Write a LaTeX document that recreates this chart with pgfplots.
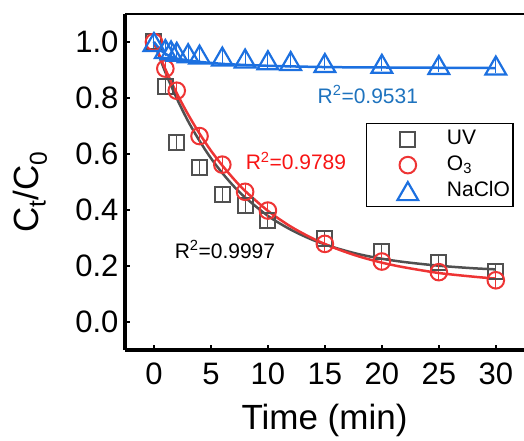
\documentclass[border=0pt]{standalone}
\usepackage{fontspec}
\setmainfont{Liberation Sans}
\usepackage{pgfplots}
\pgfplotsset{compat=1.18}
\definecolor{uvgray}{RGB}{80,80,80}
\definecolor{ozred}{RGB}{238,52,52}
\definecolor{naclo}{RGB}{28,112,224}
\definecolor{txtblue}{RGB}{30,115,190}
\definecolor{txtred}{RGB}{248,20,20}
\begin{document}
\begin{tikzpicture}
\begin{axis}[
  at={(125bp,91bp)}, anchor=south west,
  scale only axis, width=405bp, height=336bp,
  xmin=-2.54, xmax=33, ymin=-0.1, ymax=1.1,
  axis lines*=left,
  xtick={0,5,...,30}, ytick={0,0.2,0.4,0.6,0.8,1.0},
  yticklabel style={anchor=east, xshift=-3bp, /pgf/number format/.cd,fixed,fixed zerofill,precision=1},
  /pgf/number format/assume math mode=true,
  tick label style={font=\fontsize{31bp}{36bp}\selectfont},
  xticklabel style={anchor=base, yshift=-34bp},
  tick align=inside,
  major tick length=5bp, tick style={line width=2bp, black},
  axis line style={line width=3bp},
  xlabel={Time (min)}, ylabel={C\textsubscript{t}/C\textsubscript{0}},
  label style={font=\fontsize{35bp}{42bp}\selectfont},
  xlabel style={at={(axis description cs:0.4926,-0.238)}, anchor=base},
  ylabel style={at={(axis description cs:-0.2346,0.47)}, anchor=center},
  legend style={at={(0.595,0.676)}, anchor=north west, draw=black, line width=1.5bp,
    font=\fontsize{21bp}{25bp}\selectfont, inner xsep=0bp, inner ysep=2.5bp,
    row sep=0bp, nodes={inner ysep=3bp, inner xsep=3bp, text height=15bp, text depth=5bp}},
  legend cell align=left,
]
\draw[line width=3bp] (rel axis cs:0,1) -- (rel axis cs:1,1);
% fitted curves
\addplot[forget plot, uvgray, line width=2.5bp, smooth] coordinates {
(0,1.000) (1,0.892) (2,0.799) (3,0.717) (4,0.647) (5,0.585) (6,0.532) (7,0.485)
(8,0.445) (10,0.379) (12,0.330) (14,0.292) (16,0.264) (18,0.242) (20,0.226)
(22,0.214) (25,0.201) (28,0.192) (30,0.188)};
\addplot[forget plot, ozred, line width=2.5bp, smooth] coordinates {
(0,1.000) (1,0.903) (2,0.817) (3,0.741) (4,0.673) (5,0.612) (6,0.559) (7,0.511)
(8,0.468) (10,0.397) (12,0.341) (14,0.297) (16,0.262) (18,0.234) (20,0.212)
(22,0.195) (25,0.175) (28,0.162) (30,0.155)};
\addplot[forget plot, naclo, line width=2.5bp, smooth] coordinates {
(0,1.000) (0.5,0.975) (1,0.958) (1.5,0.948) (2,0.941) (3,0.934) (4,0.929)
(6,0.922) (8,0.918) (10,0.915) (13,0.912) (16,0.910) (20,0.909) (25,0.908) (30,0.907)};
% data
\addplot[only marks, mark=square, mark size=7.5bp, uvgray, line width=2bp,
  mark options={fill=none, solid},
  legend image code/.code={\path (-40bp,0bp) (35bp,0bp); \draw[uvgray, line width=2bp] plot[only marks, mark=square, mark size=7.5bp] coordinates {(0bp,0bp)};},
  error bars/.cd, y dir=both, y fixed=0.015,
  error bar style={line width=1bp, uvgray}, error mark options={mark size=4bp, line width=1bp}]
  coordinates {
(0,1.000) (1,0.842) (2,0.640) (4,0.550) (6,0.455) (8,0.415) (10,0.362)
(15,0.298) (20,0.250) (25,0.213) (30,0.180)};
\addlegendentry{UV}
\addplot[only marks, mark=o, mark size=8.3bp, ozred, line width=2bp,
  mark options={fill=none, solid},
  legend image code/.code={\path (-40bp,0bp) (35bp,0bp); \draw[ozred, line width=2bp] plot[only marks, mark=o, mark size=8.3bp] coordinates {(0bp,0bp)};},
  error bars/.cd, y dir=both, y fixed=0.015,
  error bar style={line width=1bp, ozred}, error mark options={mark size=4bp, line width=1bp}]
  coordinates {
(0,1.000) (1,0.905) (2,0.826) (4,0.664) (6,0.562) (8,0.465) (10,0.398)
(15,0.279) (20,0.216) (25,0.178) (30,0.149)};
\addlegendentry{O\textsubscript{3}}
\addplot[only marks, mark=triangle, mark size=12bp, naclo, line width=2.2bp,
  mark options={fill=none, solid, yshift=-3bp},
  legend image code/.code={\path (-40bp,0bp) (35bp,0bp); \draw[naclo, line width=2.2bp] plot[only marks, mark=triangle, mark size=12bp, mark options={yshift=-3bp}] coordinates {(0bp,0bp)};},
  error bars/.cd, y dir=both, y fixed=0.012,
  error bar style={line width=1bp, naclo}, error mark options={mark size=4bp, line width=1bp}]
  coordinates {
(0,1.000) (1,0.975) (1.5,0.970) (2,0.965) (3,0.960) (4,0.955) (6,0.948) (8,0.941)
(10,0.935) (12,0.932) (15,0.925) (20,0.922) (25,0.918) (30,0.916)};
\addlegendentry{NaClO}
\node[anchor=base, font=\fontsize{21bp}{25bp}\selectfont, text=black] at (axis cs:6.23,0.227) {R\textsuperscript{2}=0.9997};
\node[anchor=base, font=\fontsize{21bp}{25bp}\selectfont, text=txtred] at (axis cs:12.46,0.5435) {R\textsuperscript{2}=0.9789};
\node[anchor=base, font=\fontsize{21bp}{25bp}\selectfont, text=txtblue] at (axis cs:18.77,0.7815) {R\textsuperscript{2}=0.9531};
\end{axis}
\pgfresetboundingbox
\useasboundingbox (0,0) rectangle (524bp,441bp);
\end{tikzpicture}
\end{document}
